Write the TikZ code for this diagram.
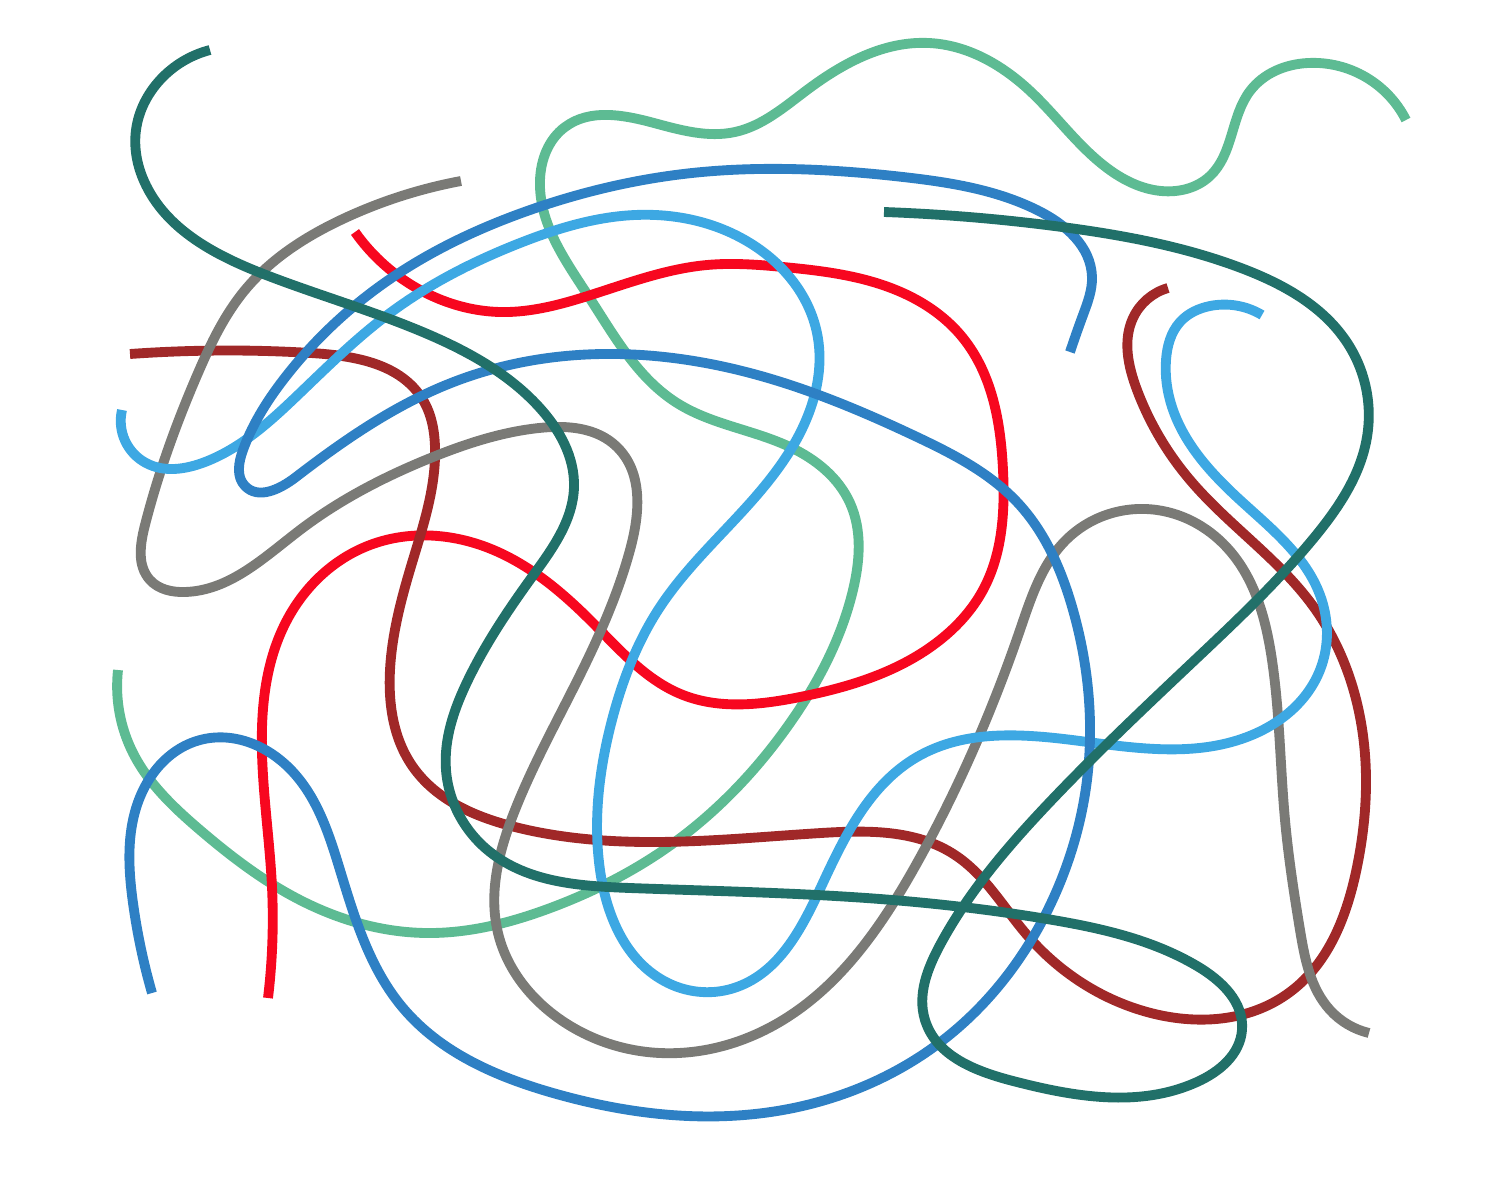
\documentclass[tikz,border=0pt]{standalone}
\usepackage{tikz}
\usetikzlibrary{hobby}
\definecolor{tangleRed}{HTML}{F7071F}
\definecolor{tangleBrick}{HTML}{A02828}
\definecolor{tangleGrey}{HTML}{7A7A76}
\definecolor{tangleTeal}{HTML}{217069}
\definecolor{tangleMint}{HTML}{5DBB93}
\definecolor{tangleBlue}{HTML}{2E80C4}
\definecolor{tangleSky}{HTML}{3DA8E3}
\begin{document}
\begin{tikzpicture}[x=0.01cm, y=-0.01cm, wire/.style={line width=2.8pt, line join=round}]
		%%%%% START %%%%%
		\useasboundingbox (0, 0) rectangle (1500, 1200);
		
		\draw[wire, color=tangleMint] plot[hobby] coordinates {(118,670) (133,753) (200,830) (300,900) (427,933) (553,907) (668,847) (790,723) (853,590) (850,503) (790,447) (677,403) (589,297) (540,180) (565,127) (654,123) (735,132) (807,90) (929,43) (1029,90) (1107,168) (1161,191) (1210,176) (1250,91) (1308,63) (1406,120)};
		
		\draw[wire, color=tangleRed] plot[hobby] coordinates {(355,232) (430,295) (500,312) (597,293) (707,265) (783,267) (917,300) (963,338) (1003,470) (983,590) (940,640) (800,697) (683,695) (593,623) (486,547) (370,545) (287,620) (262,753) (272,887) (268,998)};
		
		\draw[wire, color=tangleBrick] plot[hobby] coordinates {(130,354) (311,353) (423,400) (435,447) (412,563) (390,670) (413,767) (515,827) (649,842) (821,833) (955,855) (1027,935) (1147,1012) (1290,992) (1357,867) (1360,717) (1313,606) (1190,480) (1137,390) (1133,318) (1168,288)};
		
		\draw[wire, color=tangleGrey] plot[hobby] coordinates {(461,181) (345,218) (245,290) (198,373) (145,525) (150,580) (185,592) (300,530) (433,457) (539,428) (617,447) (630,550) (580,675) (515,810) (498,933) (561,1020) (660,1053) (783,1020) (917,863) (1020,630) (1067,539) (1157,510) (1230,551) (1272,660) (1285,820) (1300,930) (1330,1010) (1369,1033)};
		
		\draw[wire, color=tangleSky] plot[hobby] coordinates {(122,410) (146,463) (205,462) (300,393) (390,313) (520,243) (635,215) (750,243) (817,333) (810,410) (750,503) (660,607) (612,720) (600,870) (668,983) (737,987) (821,887) (917,757) (1080,741) (1247,737) (1320,670) (1320,595) (1240,500) (1172,407) (1166,360) (1180,322) (1210,306) (1262,315)};
		
		\draw[wire, color=tangleBlue] plot[hobby] coordinates {(1070,352) (1083,315) (1092,277) (1037,210) (903,177) (692,173) (530,210) (390,279) (287,375) (243,450) (245,486) (296,477) (451,383) (556,357) (750,373) (917,437) (1017,502) (1073,610) (1087,780) (1053,899) (947,1037) (783,1110) (553,1093) (403,1008) (340,870) (293,772) (200,740) (140,797) (133,903) (152,993)};
		
		\draw[wire, color=tangleTeal] plot[hobby] coordinates {(210,50) (160,80) (136,130) (144,181) (266,275) (432,336) (539,407) (574,487) (532,577) (468,680) (446,770) (490,852) (630,888) (880,899) (1047,919) (1197,966) (1242,1030) (1197,1082) (1013,1081) (925,1020) (940,945) (1047,805) (1197,658) (1313,539) (1367,437) (1348,344) (1241,268) (1062,227) (884,212)};
		
		%%%%% END %%%%%
	\end{tikzpicture}
\end{document}
